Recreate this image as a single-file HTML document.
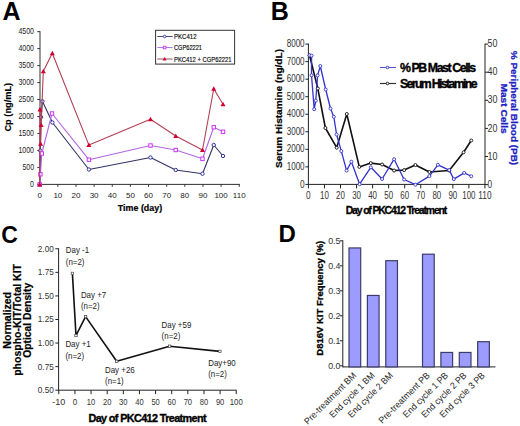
<!DOCTYPE html>
<html><head><meta charset="utf-8"><style>
html,body{margin:0;padding:0;background:#fff;}
svg{display:block;font-family:"Liberation Sans", sans-serif;}
</style></head><body>
<svg width="520" height="426" viewBox="0 0 520 426">
<rect width="520" height="426" fill="#fff"/>
<text x="2.50" y="20.00" font-size="25" font-weight="bold" text-anchor="start" fill="#000">A</text>
<line x1="40.00" y1="31.20" x2="40.00" y2="184.90" stroke="#333" stroke-width="1"/>
<line x1="37.30" y1="184.40" x2="40.00" y2="184.40" stroke="#333" stroke-width="1"/>
<text x="34.00" y="187.10" font-size="8.3" font-weight="normal" text-anchor="end" fill="#222" textLength="3.9" lengthAdjust="spacingAndGlyphs">0</text>
<line x1="37.30" y1="167.43" x2="40.00" y2="167.43" stroke="#333" stroke-width="1"/>
<text x="34.00" y="170.13" font-size="8.3" font-weight="normal" text-anchor="end" fill="#222" textLength="11.6" lengthAdjust="spacingAndGlyphs">500</text>
<line x1="37.30" y1="150.46" x2="40.00" y2="150.46" stroke="#333" stroke-width="1"/>
<text x="34.00" y="153.16" font-size="8.3" font-weight="normal" text-anchor="end" fill="#222" textLength="15.5" lengthAdjust="spacingAndGlyphs">1000</text>
<line x1="37.30" y1="133.49" x2="40.00" y2="133.49" stroke="#333" stroke-width="1"/>
<text x="34.00" y="136.19" font-size="8.3" font-weight="normal" text-anchor="end" fill="#222" textLength="15.5" lengthAdjust="spacingAndGlyphs">1500</text>
<line x1="37.30" y1="116.52" x2="40.00" y2="116.52" stroke="#333" stroke-width="1"/>
<text x="34.00" y="119.22" font-size="8.3" font-weight="normal" text-anchor="end" fill="#222" textLength="15.5" lengthAdjust="spacingAndGlyphs">2000</text>
<line x1="37.30" y1="99.55" x2="40.00" y2="99.55" stroke="#333" stroke-width="1"/>
<text x="34.00" y="102.25" font-size="8.3" font-weight="normal" text-anchor="end" fill="#222" textLength="15.5" lengthAdjust="spacingAndGlyphs">2500</text>
<line x1="37.30" y1="82.58" x2="40.00" y2="82.58" stroke="#333" stroke-width="1"/>
<text x="34.00" y="85.28" font-size="8.3" font-weight="normal" text-anchor="end" fill="#222" textLength="15.5" lengthAdjust="spacingAndGlyphs">3000</text>
<line x1="37.30" y1="65.61" x2="40.00" y2="65.61" stroke="#333" stroke-width="1"/>
<text x="34.00" y="68.31" font-size="8.3" font-weight="normal" text-anchor="end" fill="#222" textLength="15.5" lengthAdjust="spacingAndGlyphs">3500</text>
<line x1="37.30" y1="48.64" x2="40.00" y2="48.64" stroke="#333" stroke-width="1"/>
<text x="34.00" y="51.34" font-size="8.3" font-weight="normal" text-anchor="end" fill="#222" textLength="15.5" lengthAdjust="spacingAndGlyphs">4000</text>
<line x1="37.30" y1="31.67" x2="40.00" y2="31.67" stroke="#333" stroke-width="1"/>
<text x="34.00" y="34.37" font-size="8.3" font-weight="normal" text-anchor="end" fill="#222" textLength="15.5" lengthAdjust="spacingAndGlyphs">4500</text>
<line x1="39.50" y1="184.40" x2="239.80" y2="184.40" stroke="#333" stroke-width="1"/>
<line x1="39.70" y1="184.40" x2="39.70" y2="186.80" stroke="#333" stroke-width="1"/>
<text x="39.70" y="198.40" font-size="8" font-weight="normal" text-anchor="middle" fill="#222">0</text>
<line x1="57.84" y1="184.40" x2="57.84" y2="186.80" stroke="#333" stroke-width="1"/>
<text x="57.84" y="198.40" font-size="8" font-weight="normal" text-anchor="middle" fill="#222">10</text>
<line x1="75.98" y1="184.40" x2="75.98" y2="186.80" stroke="#333" stroke-width="1"/>
<text x="75.98" y="198.40" font-size="8" font-weight="normal" text-anchor="middle" fill="#222">20</text>
<line x1="94.12" y1="184.40" x2="94.12" y2="186.80" stroke="#333" stroke-width="1"/>
<text x="94.12" y="198.40" font-size="8" font-weight="normal" text-anchor="middle" fill="#222">30</text>
<line x1="112.26" y1="184.40" x2="112.26" y2="186.80" stroke="#333" stroke-width="1"/>
<text x="112.26" y="198.40" font-size="8" font-weight="normal" text-anchor="middle" fill="#222">40</text>
<line x1="130.40" y1="184.40" x2="130.40" y2="186.80" stroke="#333" stroke-width="1"/>
<text x="130.40" y="198.40" font-size="8" font-weight="normal" text-anchor="middle" fill="#222">50</text>
<line x1="148.54" y1="184.40" x2="148.54" y2="186.80" stroke="#333" stroke-width="1"/>
<text x="148.54" y="198.40" font-size="8" font-weight="normal" text-anchor="middle" fill="#222">60</text>
<line x1="166.68" y1="184.40" x2="166.68" y2="186.80" stroke="#333" stroke-width="1"/>
<text x="166.68" y="198.40" font-size="8" font-weight="normal" text-anchor="middle" fill="#222">70</text>
<line x1="184.82" y1="184.40" x2="184.82" y2="186.80" stroke="#333" stroke-width="1"/>
<text x="184.82" y="198.40" font-size="8" font-weight="normal" text-anchor="middle" fill="#222">80</text>
<line x1="202.96" y1="184.40" x2="202.96" y2="186.80" stroke="#333" stroke-width="1"/>
<text x="202.96" y="198.40" font-size="8" font-weight="normal" text-anchor="middle" fill="#222">90</text>
<line x1="221.10" y1="184.40" x2="221.10" y2="186.80" stroke="#333" stroke-width="1"/>
<text x="221.10" y="198.40" font-size="8" font-weight="normal" text-anchor="middle" fill="#222">100</text>
<line x1="239.24" y1="184.40" x2="239.24" y2="186.80" stroke="#333" stroke-width="1"/>
<text x="239.24" y="198.40" font-size="8" font-weight="normal" text-anchor="middle" fill="#222">110</text>
<text x="140.00" y="211.00" font-size="9.2" font-weight="bold" text-anchor="middle" fill="#000" textLength="44.3" lengthAdjust="spacingAndGlyphs" stroke="#000" stroke-width="0.2">Time (day)</text>
<text x="11.00" y="107.20" font-size="9.2" font-weight="bold" text-anchor="middle" fill="#000" textLength="48.7" lengthAdjust="spacingAndGlyphs" stroke="#000" stroke-width="0.15" transform="rotate(-90 11.00 107.20)">Cp (ng/mL)</text>
<rect x="155.6" y="30.3" width="79" height="33.8" fill="#fff" stroke="#333" stroke-width="1"/>
<line x1="157.30" y1="36.50" x2="172.60" y2="36.50" stroke="#333366" stroke-width="0.9"/>
<circle cx="164.60" cy="36.50" r="1.3" fill="#fff" stroke="#333399" stroke-width="0.9"/>
<text x="174.00" y="39.40" font-size="7.8" font-weight="normal" text-anchor="start" fill="#000" textLength="22.5" lengthAdjust="spacingAndGlyphs" stroke="#000" stroke-width="0.15">PKC412</text>
<line x1="157.30" y1="47.50" x2="172.60" y2="47.50" stroke="#a070d8" stroke-width="0.9"/>
<rect x="163.30" y="46.20" width="2.60" height="2.60" fill="#fff" stroke="#cc33ff" stroke-width="0.9"/>
<text x="174.00" y="50.40" font-size="7.8" font-weight="normal" text-anchor="start" fill="#000" textLength="28" lengthAdjust="spacingAndGlyphs" stroke="#000" stroke-width="0.15">CGP62221</text>
<line x1="157.30" y1="59.00" x2="172.60" y2="59.00" stroke="#884455" stroke-width="0.9"/>
<polygon points="164.60,57.00 166.60,60.60 162.60,60.60" fill="#d00030"/>
<text x="174.00" y="61.90" font-size="7.8" font-weight="normal" text-anchor="start" fill="#000" textLength="57.4" lengthAdjust="spacingAndGlyphs" stroke="#000" stroke-width="0.15">PKC412 + CGP62221</text>
<polyline points="39.70,184.40 40.30,150.60 41.00,117.20 42.40,101.30 52.40,122.50 88.90,169.50 150.50,157.50 175.75,170.00 202.50,173.75 213.75,145.00 223.00,156.00" fill="none" stroke="#333366" stroke-width="1.1" stroke-linejoin="round"/>
<circle cx="39.70" cy="184.40" r="1.7" fill="#fff" stroke="#333399" stroke-width="1"/>
<circle cx="40.30" cy="150.60" r="1.7" fill="#fff" stroke="#333399" stroke-width="1"/>
<circle cx="41.00" cy="117.20" r="1.7" fill="#fff" stroke="#333399" stroke-width="1"/>
<circle cx="42.40" cy="101.30" r="1.7" fill="#fff" stroke="#333399" stroke-width="1"/>
<circle cx="52.40" cy="122.50" r="1.7" fill="#fff" stroke="#333399" stroke-width="1"/>
<circle cx="88.90" cy="169.50" r="1.7" fill="#fff" stroke="#333399" stroke-width="1"/>
<circle cx="150.50" cy="157.50" r="1.7" fill="#fff" stroke="#333399" stroke-width="1"/>
<circle cx="175.75" cy="170.00" r="1.7" fill="#fff" stroke="#333399" stroke-width="1"/>
<circle cx="202.50" cy="173.75" r="1.7" fill="#fff" stroke="#333399" stroke-width="1"/>
<circle cx="213.75" cy="145.00" r="1.7" fill="#fff" stroke="#333399" stroke-width="1"/>
<circle cx="223.00" cy="156.00" r="1.7" fill="#fff" stroke="#333399" stroke-width="1"/>
<polyline points="39.70,184.40 40.40,174.30 41.80,153.50 52.00,113.50 88.90,159.70 150.50,145.50 175.75,150.00 202.50,158.75 213.75,127.25 223.00,131.75" fill="none" stroke="#b266e0" stroke-width="1.1" stroke-linejoin="round"/>
<rect x="38.00" y="182.70" width="3.40" height="3.40" fill="#fff" stroke="#cc33ff" stroke-width="1"/>
<rect x="38.70" y="172.60" width="3.40" height="3.40" fill="#fff" stroke="#cc33ff" stroke-width="1"/>
<rect x="40.10" y="151.80" width="3.40" height="3.40" fill="#fff" stroke="#cc33ff" stroke-width="1"/>
<rect x="50.30" y="111.80" width="3.40" height="3.40" fill="#fff" stroke="#cc33ff" stroke-width="1"/>
<rect x="87.20" y="158.00" width="3.40" height="3.40" fill="#fff" stroke="#cc33ff" stroke-width="1"/>
<rect x="148.80" y="143.80" width="3.40" height="3.40" fill="#fff" stroke="#cc33ff" stroke-width="1"/>
<rect x="174.05" y="148.30" width="3.40" height="3.40" fill="#fff" stroke="#cc33ff" stroke-width="1"/>
<rect x="200.80" y="157.05" width="3.40" height="3.40" fill="#fff" stroke="#cc33ff" stroke-width="1"/>
<rect x="212.05" y="125.55" width="3.40" height="3.40" fill="#fff" stroke="#cc33ff" stroke-width="1"/>
<rect x="221.30" y="130.05" width="3.40" height="3.40" fill="#fff" stroke="#cc33ff" stroke-width="1"/>
<polyline points="39.70,184.40 40.00,109.50 40.60,143.80 41.20,125.00 43.30,71.30 52.30,53.30 88.90,145.10 150.50,119.25 175.75,136.00 202.50,150.00 213.75,88.75 223.00,104.25" fill="none" stroke="#b04055" stroke-width="1.1" stroke-linejoin="round"/>
<polygon points="39.70,181.90 42.20,186.40 37.20,186.40" fill="#d00030"/>
<polygon points="40.00,107.00 42.50,111.50 37.50,111.50" fill="#d00030"/>
<polygon points="40.60,141.30 43.10,145.80 38.10,145.80" fill="#d00030"/>
<polygon points="41.20,122.50 43.70,127.00 38.70,127.00" fill="#d00030"/>
<polygon points="43.30,68.80 45.80,73.30 40.80,73.30" fill="#d00030"/>
<polygon points="52.30,50.80 54.80,55.30 49.80,55.30" fill="#d00030"/>
<polygon points="88.90,142.60 91.40,147.10 86.40,147.10" fill="#d00030"/>
<polygon points="150.50,116.75 153.00,121.25 148.00,121.25" fill="#d00030"/>
<polygon points="175.75,133.50 178.25,138.00 173.25,138.00" fill="#d00030"/>
<polygon points="202.50,147.50 205.00,152.00 200.00,152.00" fill="#d00030"/>
<polygon points="213.75,86.25 216.25,90.75 211.25,90.75" fill="#d00030"/>
<polygon points="223.00,101.75 225.50,106.25 220.50,106.25" fill="#d00030"/>
<text x="270.70" y="20.00" font-size="25" font-weight="bold" text-anchor="start" fill="#000">B</text>
<line x1="308.40" y1="43.60" x2="308.40" y2="184.90" stroke="#222" stroke-width="1"/>
<line x1="305.40" y1="184.40" x2="308.40" y2="184.40" stroke="#222" stroke-width="1"/>
<text x="304.60" y="187.50" font-size="10" font-weight="normal" text-anchor="end" fill="#333" textLength="4.6" lengthAdjust="spacingAndGlyphs">0</text>
<line x1="305.40" y1="166.86" x2="308.40" y2="166.86" stroke="#222" stroke-width="1"/>
<text x="304.60" y="169.96" font-size="10" font-weight="normal" text-anchor="end" fill="#333" textLength="17.9" lengthAdjust="spacingAndGlyphs">1000</text>
<line x1="305.40" y1="149.32" x2="308.40" y2="149.32" stroke="#222" stroke-width="1"/>
<text x="304.60" y="152.42" font-size="10" font-weight="normal" text-anchor="end" fill="#333" textLength="17.9" lengthAdjust="spacingAndGlyphs">2000</text>
<line x1="305.40" y1="131.78" x2="308.40" y2="131.78" stroke="#222" stroke-width="1"/>
<text x="304.60" y="134.88" font-size="10" font-weight="normal" text-anchor="end" fill="#333" textLength="17.9" lengthAdjust="spacingAndGlyphs">3000</text>
<line x1="305.40" y1="114.24" x2="308.40" y2="114.24" stroke="#222" stroke-width="1"/>
<text x="304.60" y="117.34" font-size="10" font-weight="normal" text-anchor="end" fill="#333" textLength="17.9" lengthAdjust="spacingAndGlyphs">4000</text>
<line x1="305.40" y1="96.70" x2="308.40" y2="96.70" stroke="#222" stroke-width="1"/>
<text x="304.60" y="99.80" font-size="10" font-weight="normal" text-anchor="end" fill="#333" textLength="17.9" lengthAdjust="spacingAndGlyphs">5000</text>
<line x1="305.40" y1="79.16" x2="308.40" y2="79.16" stroke="#222" stroke-width="1"/>
<text x="304.60" y="82.26" font-size="10" font-weight="normal" text-anchor="end" fill="#333" textLength="17.9" lengthAdjust="spacingAndGlyphs">6000</text>
<line x1="305.40" y1="61.62" x2="308.40" y2="61.62" stroke="#222" stroke-width="1"/>
<text x="304.60" y="64.72" font-size="10" font-weight="normal" text-anchor="end" fill="#333" textLength="17.9" lengthAdjust="spacingAndGlyphs">7000</text>
<line x1="305.40" y1="44.08" x2="308.40" y2="44.08" stroke="#222" stroke-width="1"/>
<text x="304.60" y="47.18" font-size="10" font-weight="normal" text-anchor="end" fill="#333" textLength="17.9" lengthAdjust="spacingAndGlyphs">8000</text>
<line x1="485.00" y1="43.70" x2="485.00" y2="184.90" stroke="#222" stroke-width="1"/>
<line x1="485.00" y1="184.60" x2="488.00" y2="184.60" stroke="#222" stroke-width="1"/>
<text x="487.60" y="187.70" font-size="10" font-weight="normal" text-anchor="start" fill="#333" textLength="4.6" lengthAdjust="spacingAndGlyphs">0</text>
<line x1="485.00" y1="156.50" x2="488.00" y2="156.50" stroke="#222" stroke-width="1"/>
<text x="487.60" y="159.60" font-size="10" font-weight="normal" text-anchor="start" fill="#333" textLength="9.9" lengthAdjust="spacingAndGlyphs">10</text>
<line x1="485.00" y1="128.40" x2="488.00" y2="128.40" stroke="#222" stroke-width="1"/>
<text x="487.60" y="131.50" font-size="10" font-weight="normal" text-anchor="start" fill="#333" textLength="9.9" lengthAdjust="spacingAndGlyphs">20</text>
<line x1="485.00" y1="100.30" x2="488.00" y2="100.30" stroke="#222" stroke-width="1"/>
<text x="487.60" y="103.40" font-size="10" font-weight="normal" text-anchor="start" fill="#333" textLength="9.9" lengthAdjust="spacingAndGlyphs">30</text>
<line x1="485.00" y1="72.20" x2="488.00" y2="72.20" stroke="#222" stroke-width="1"/>
<text x="487.60" y="75.30" font-size="10" font-weight="normal" text-anchor="start" fill="#333" textLength="9.9" lengthAdjust="spacingAndGlyphs">40</text>
<line x1="485.00" y1="44.10" x2="488.00" y2="44.10" stroke="#222" stroke-width="1"/>
<text x="487.60" y="47.20" font-size="10" font-weight="normal" text-anchor="start" fill="#333" textLength="9.9" lengthAdjust="spacingAndGlyphs">50</text>
<line x1="308.40" y1="184.40" x2="485.00" y2="184.40" stroke="#222" stroke-width="1"/>
<line x1="308.40" y1="184.40" x2="308.40" y2="188.40" stroke="#222" stroke-width="1"/>
<text x="308.40" y="199.10" font-size="10" font-weight="normal" text-anchor="middle" fill="#333" textLength="4.6" lengthAdjust="spacingAndGlyphs">0</text>
<line x1="324.45" y1="184.40" x2="324.45" y2="188.40" stroke="#222" stroke-width="1"/>
<text x="324.45" y="199.10" font-size="10" font-weight="normal" text-anchor="middle" fill="#333" textLength="8.8" lengthAdjust="spacingAndGlyphs">10</text>
<line x1="340.50" y1="184.40" x2="340.50" y2="188.40" stroke="#222" stroke-width="1"/>
<text x="340.50" y="199.10" font-size="10" font-weight="normal" text-anchor="middle" fill="#333" textLength="8.8" lengthAdjust="spacingAndGlyphs">20</text>
<line x1="356.55" y1="184.40" x2="356.55" y2="188.40" stroke="#222" stroke-width="1"/>
<text x="356.55" y="199.10" font-size="10" font-weight="normal" text-anchor="middle" fill="#333" textLength="8.8" lengthAdjust="spacingAndGlyphs">30</text>
<line x1="372.60" y1="184.40" x2="372.60" y2="188.40" stroke="#222" stroke-width="1"/>
<text x="372.60" y="199.10" font-size="10" font-weight="normal" text-anchor="middle" fill="#333" textLength="8.8" lengthAdjust="spacingAndGlyphs">40</text>
<line x1="388.65" y1="184.40" x2="388.65" y2="188.40" stroke="#222" stroke-width="1"/>
<text x="388.65" y="199.10" font-size="10" font-weight="normal" text-anchor="middle" fill="#333" textLength="8.8" lengthAdjust="spacingAndGlyphs">50</text>
<line x1="404.70" y1="184.40" x2="404.70" y2="188.40" stroke="#222" stroke-width="1"/>
<text x="404.70" y="199.10" font-size="10" font-weight="normal" text-anchor="middle" fill="#333" textLength="8.8" lengthAdjust="spacingAndGlyphs">60</text>
<line x1="420.75" y1="184.40" x2="420.75" y2="188.40" stroke="#222" stroke-width="1"/>
<text x="420.75" y="199.10" font-size="10" font-weight="normal" text-anchor="middle" fill="#333" textLength="8.8" lengthAdjust="spacingAndGlyphs">70</text>
<line x1="436.80" y1="184.40" x2="436.80" y2="188.40" stroke="#222" stroke-width="1"/>
<text x="436.80" y="199.10" font-size="10" font-weight="normal" text-anchor="middle" fill="#333" textLength="8.8" lengthAdjust="spacingAndGlyphs">80</text>
<line x1="452.85" y1="184.40" x2="452.85" y2="188.40" stroke="#222" stroke-width="1"/>
<text x="452.85" y="199.10" font-size="10" font-weight="normal" text-anchor="middle" fill="#333" textLength="8.8" lengthAdjust="spacingAndGlyphs">90</text>
<line x1="468.90" y1="184.40" x2="468.90" y2="188.40" stroke="#222" stroke-width="1"/>
<text x="468.90" y="199.10" font-size="10" font-weight="normal" text-anchor="middle" fill="#333" textLength="13.2" lengthAdjust="spacingAndGlyphs">100</text>
<line x1="484.95" y1="184.40" x2="484.95" y2="188.40" stroke="#222" stroke-width="1"/>
<text x="484.95" y="199.10" font-size="10" font-weight="normal" text-anchor="middle" fill="#333" textLength="13.2" lengthAdjust="spacingAndGlyphs">110</text>
<text x="396.50" y="214.30" font-size="10.4" font-weight="bold" text-anchor="middle" fill="#000" textLength="101.5" lengthAdjust="spacing" stroke="#000" stroke-width="0.3">Day of PKC412 Treatment</text>
<text x="282.20" y="108.50" font-size="9.6" font-weight="bold" text-anchor="middle" fill="#000" textLength="119" lengthAdjust="spacingAndGlyphs" stroke="#000" stroke-width="0.2" transform="rotate(-90 282.20 108.50)">Serum Histamine (ng/dL)</text>
<text x="511.30" y="108.00" font-size="9" font-weight="bold" text-anchor="middle" fill="#2020c0" textLength="114.3" lengthAdjust="spacingAndGlyphs" stroke="#2020c0" stroke-width="0.25" transform="rotate(90 511.30 108.00)">% Peripheral Blood (PB)</text>
<text x="501.20" y="108.60" font-size="9.3" font-weight="bold" text-anchor="middle" fill="#2020c0" textLength="50.1" lengthAdjust="spacingAndGlyphs" stroke="#2020c0" stroke-width="0.25" transform="rotate(90 501.20 108.60)">Mast Cells</text>
<line x1="380.00" y1="67.50" x2="396.00" y2="67.50" stroke="#5555cc" stroke-width="1.1"/>
<circle cx="387.50" cy="67.50" r="1.3" fill="#fff" stroke="#3333cc" stroke-width="0.9"/>
<line x1="380.00" y1="83.50" x2="396.00" y2="83.50" stroke="#333" stroke-width="1.2"/>
<circle cx="387.50" cy="83.50" r="1.3" fill="#fff" stroke="#111111" stroke-width="0.9"/>
<text x="400.00" y="71.80" font-size="12.3" font-weight="bold" text-anchor="start" fill="#000" textLength="76" lengthAdjust="spacing" stroke="#000" stroke-width="0.35">% PB Mast Cells</text>
<text x="400.00" y="87.80" font-size="12.3" font-weight="bold" text-anchor="start" fill="#000" textLength="77.5" lengthAdjust="spacing" stroke="#000" stroke-width="0.35">Serum Histamine</text>
<polyline points="309.60,55.50 317.80,88.50 325.40,128.00 336.70,147.70 346.80,114.00 359.30,166.90 370.80,163.10 382.10,164.50 394.10,170.50 404.10,170.10 415.40,165.00 429.40,172.00 449.20,170.50 463.60,152.30 471.25,140.50" fill="none" stroke="#111111" stroke-width="1.6" stroke-linejoin="round"/>
<polyline points="309.60,55.30 311.60,55.70 311.50,75.30 314.20,109.20 315.80,100.60 317.60,75.40 320.30,66.00 325.70,89.50 330.50,108.50 333.80,116.80 336.60,134.50 341.30,151.10 346.60,170.60 351.40,161.70 359.60,184.20 370.80,167.30 382.10,179.00 394.10,159.20 404.10,179.50 415.40,184.70 429.40,176.10 437.90,164.80 449.20,170.10 453.80,179.10 464.20,172.90 471.25,176.25" fill="none" stroke="#3333cc" stroke-width="1.3" stroke-linejoin="round"/>
<circle cx="309.60" cy="55.50" r="1.5" fill="#fff" stroke="#111111" stroke-width="0.9"/>
<circle cx="317.80" cy="88.50" r="1.5" fill="#fff" stroke="#111111" stroke-width="0.9"/>
<circle cx="325.40" cy="128.00" r="1.5" fill="#fff" stroke="#111111" stroke-width="0.9"/>
<circle cx="336.70" cy="147.70" r="1.5" fill="#fff" stroke="#111111" stroke-width="0.9"/>
<circle cx="346.80" cy="114.00" r="1.5" fill="#fff" stroke="#111111" stroke-width="0.9"/>
<circle cx="359.30" cy="166.90" r="1.5" fill="#fff" stroke="#111111" stroke-width="0.9"/>
<circle cx="370.80" cy="163.10" r="1.5" fill="#fff" stroke="#111111" stroke-width="0.9"/>
<circle cx="382.10" cy="164.50" r="1.5" fill="#fff" stroke="#111111" stroke-width="0.9"/>
<circle cx="394.10" cy="170.50" r="1.5" fill="#fff" stroke="#111111" stroke-width="0.9"/>
<circle cx="404.10" cy="170.10" r="1.5" fill="#fff" stroke="#111111" stroke-width="0.9"/>
<circle cx="415.40" cy="165.00" r="1.5" fill="#fff" stroke="#111111" stroke-width="0.9"/>
<circle cx="429.40" cy="172.00" r="1.5" fill="#fff" stroke="#111111" stroke-width="0.9"/>
<circle cx="449.20" cy="170.50" r="1.5" fill="#fff" stroke="#111111" stroke-width="0.9"/>
<circle cx="463.60" cy="152.30" r="1.5" fill="#fff" stroke="#111111" stroke-width="0.9"/>
<circle cx="471.25" cy="140.50" r="1.5" fill="#fff" stroke="#111111" stroke-width="0.9"/>
<circle cx="309.60" cy="55.30" r="1.5" fill="#fff" stroke="#3333cc" stroke-width="0.9"/>
<circle cx="311.60" cy="55.70" r="1.5" fill="#fff" stroke="#3333cc" stroke-width="0.9"/>
<circle cx="311.50" cy="75.30" r="1.5" fill="#fff" stroke="#3333cc" stroke-width="0.9"/>
<circle cx="314.20" cy="109.20" r="1.5" fill="#fff" stroke="#3333cc" stroke-width="0.9"/>
<circle cx="315.80" cy="100.60" r="1.5" fill="#fff" stroke="#3333cc" stroke-width="0.9"/>
<circle cx="317.60" cy="75.40" r="1.5" fill="#fff" stroke="#3333cc" stroke-width="0.9"/>
<circle cx="320.30" cy="66.00" r="1.5" fill="#fff" stroke="#3333cc" stroke-width="0.9"/>
<circle cx="325.70" cy="89.50" r="1.5" fill="#fff" stroke="#3333cc" stroke-width="0.9"/>
<circle cx="330.50" cy="108.50" r="1.5" fill="#fff" stroke="#3333cc" stroke-width="0.9"/>
<circle cx="333.80" cy="116.80" r="1.5" fill="#fff" stroke="#3333cc" stroke-width="0.9"/>
<circle cx="336.60" cy="134.50" r="1.5" fill="#fff" stroke="#3333cc" stroke-width="0.9"/>
<circle cx="341.30" cy="151.10" r="1.5" fill="#fff" stroke="#3333cc" stroke-width="0.9"/>
<circle cx="346.60" cy="170.60" r="1.5" fill="#fff" stroke="#3333cc" stroke-width="0.9"/>
<circle cx="351.40" cy="161.70" r="1.5" fill="#fff" stroke="#3333cc" stroke-width="0.9"/>
<circle cx="359.60" cy="184.20" r="1.5" fill="#fff" stroke="#3333cc" stroke-width="0.9"/>
<circle cx="370.80" cy="167.30" r="1.5" fill="#fff" stroke="#3333cc" stroke-width="0.9"/>
<circle cx="382.10" cy="179.00" r="1.5" fill="#fff" stroke="#3333cc" stroke-width="0.9"/>
<circle cx="394.10" cy="159.20" r="1.5" fill="#fff" stroke="#3333cc" stroke-width="0.9"/>
<circle cx="404.10" cy="179.50" r="1.5" fill="#fff" stroke="#3333cc" stroke-width="0.9"/>
<circle cx="415.40" cy="184.70" r="1.5" fill="#fff" stroke="#3333cc" stroke-width="0.9"/>
<circle cx="429.40" cy="176.10" r="1.5" fill="#fff" stroke="#3333cc" stroke-width="0.9"/>
<circle cx="437.90" cy="164.80" r="1.5" fill="#fff" stroke="#3333cc" stroke-width="0.9"/>
<circle cx="449.20" cy="170.10" r="1.5" fill="#fff" stroke="#3333cc" stroke-width="0.9"/>
<circle cx="453.80" cy="179.10" r="1.5" fill="#fff" stroke="#3333cc" stroke-width="0.9"/>
<circle cx="464.20" cy="172.90" r="1.5" fill="#fff" stroke="#3333cc" stroke-width="0.9"/>
<circle cx="471.25" cy="176.25" r="1.5" fill="#fff" stroke="#3333cc" stroke-width="0.9"/>
<text x="1.20" y="243.00" font-size="23" font-weight="bold" text-anchor="start" fill="#000">C</text>
<line x1="58.60" y1="248.30" x2="58.60" y2="390.70" stroke="#222" stroke-width="1"/>
<line x1="55.30" y1="390.20" x2="58.60" y2="390.20" stroke="#222" stroke-width="1"/>
<text x="53.80" y="393.10" font-size="9.8" font-weight="normal" text-anchor="end" fill="#333" textLength="16" lengthAdjust="spacingAndGlyphs">0.50</text>
<line x1="55.30" y1="366.63" x2="58.60" y2="366.63" stroke="#222" stroke-width="1"/>
<text x="53.80" y="369.53" font-size="9.8" font-weight="normal" text-anchor="end" fill="#333" textLength="16" lengthAdjust="spacingAndGlyphs">0.75</text>
<line x1="55.30" y1="343.06" x2="58.60" y2="343.06" stroke="#222" stroke-width="1"/>
<text x="53.80" y="345.96" font-size="9.8" font-weight="normal" text-anchor="end" fill="#333" textLength="16" lengthAdjust="spacingAndGlyphs">1.00</text>
<line x1="55.30" y1="319.49" x2="58.60" y2="319.49" stroke="#222" stroke-width="1"/>
<text x="53.80" y="322.39" font-size="9.8" font-weight="normal" text-anchor="end" fill="#333" textLength="16" lengthAdjust="spacingAndGlyphs">1.25</text>
<line x1="55.30" y1="295.92" x2="58.60" y2="295.92" stroke="#222" stroke-width="1"/>
<text x="53.80" y="298.82" font-size="9.8" font-weight="normal" text-anchor="end" fill="#333" textLength="16" lengthAdjust="spacingAndGlyphs">1.50</text>
<line x1="55.30" y1="272.35" x2="58.60" y2="272.35" stroke="#222" stroke-width="1"/>
<text x="53.80" y="275.25" font-size="9.8" font-weight="normal" text-anchor="end" fill="#333" textLength="16" lengthAdjust="spacingAndGlyphs">1.75</text>
<line x1="55.30" y1="248.78" x2="58.60" y2="248.78" stroke="#222" stroke-width="1"/>
<text x="53.80" y="251.68" font-size="9.8" font-weight="normal" text-anchor="end" fill="#333" textLength="16" lengthAdjust="spacingAndGlyphs">2.00</text>
<line x1="58.60" y1="390.20" x2="236.50" y2="390.20" stroke="#222" stroke-width="1"/>
<line x1="58.80" y1="390.20" x2="58.80" y2="394.20" stroke="#222" stroke-width="1"/>
<text x="58.80" y="404.50" font-size="9.8" font-weight="normal" text-anchor="middle" fill="#333" textLength="13.1" lengthAdjust="spacingAndGlyphs">-10</text>
<line x1="74.93" y1="390.20" x2="74.93" y2="394.20" stroke="#222" stroke-width="1"/>
<text x="74.93" y="404.50" font-size="9.8" font-weight="normal" text-anchor="middle" fill="#333" textLength="4.5" lengthAdjust="spacingAndGlyphs">0</text>
<line x1="91.06" y1="390.20" x2="91.06" y2="394.20" stroke="#222" stroke-width="1"/>
<text x="91.06" y="404.50" font-size="9.8" font-weight="normal" text-anchor="middle" fill="#333" textLength="8.4" lengthAdjust="spacingAndGlyphs">10</text>
<line x1="107.19" y1="390.20" x2="107.19" y2="394.20" stroke="#222" stroke-width="1"/>
<text x="107.19" y="404.50" font-size="9.8" font-weight="normal" text-anchor="middle" fill="#333" textLength="8.4" lengthAdjust="spacingAndGlyphs">20</text>
<line x1="123.32" y1="390.20" x2="123.32" y2="394.20" stroke="#222" stroke-width="1"/>
<text x="123.32" y="404.50" font-size="9.8" font-weight="normal" text-anchor="middle" fill="#333" textLength="8.4" lengthAdjust="spacingAndGlyphs">30</text>
<line x1="139.45" y1="390.20" x2="139.45" y2="394.20" stroke="#222" stroke-width="1"/>
<text x="139.45" y="404.50" font-size="9.8" font-weight="normal" text-anchor="middle" fill="#333" textLength="8.4" lengthAdjust="spacingAndGlyphs">40</text>
<line x1="155.58" y1="390.20" x2="155.58" y2="394.20" stroke="#222" stroke-width="1"/>
<text x="155.58" y="404.50" font-size="9.8" font-weight="normal" text-anchor="middle" fill="#333" textLength="8.4" lengthAdjust="spacingAndGlyphs">50</text>
<line x1="171.71" y1="390.20" x2="171.71" y2="394.20" stroke="#222" stroke-width="1"/>
<text x="171.71" y="404.50" font-size="9.8" font-weight="normal" text-anchor="middle" fill="#333" textLength="8.4" lengthAdjust="spacingAndGlyphs">60</text>
<line x1="187.84" y1="390.20" x2="187.84" y2="394.20" stroke="#222" stroke-width="1"/>
<text x="187.84" y="404.50" font-size="9.8" font-weight="normal" text-anchor="middle" fill="#333" textLength="8.4" lengthAdjust="spacingAndGlyphs">70</text>
<line x1="203.97" y1="390.20" x2="203.97" y2="394.20" stroke="#222" stroke-width="1"/>
<text x="203.97" y="404.50" font-size="9.8" font-weight="normal" text-anchor="middle" fill="#333" textLength="8.4" lengthAdjust="spacingAndGlyphs">80</text>
<line x1="220.10" y1="390.20" x2="220.10" y2="394.20" stroke="#222" stroke-width="1"/>
<text x="220.10" y="404.50" font-size="9.8" font-weight="normal" text-anchor="middle" fill="#333" textLength="8.4" lengthAdjust="spacingAndGlyphs">90</text>
<line x1="236.23" y1="390.20" x2="236.23" y2="394.20" stroke="#222" stroke-width="1"/>
<text x="236.23" y="404.50" font-size="9.8" font-weight="normal" text-anchor="middle" fill="#333" textLength="13" lengthAdjust="spacingAndGlyphs">100</text>
<text x="147.50" y="421.80" font-size="10.8" font-weight="bold" text-anchor="middle" fill="#000" textLength="118" lengthAdjust="spacing" stroke="#000" stroke-width="0.35">Day of PKC412 Treatment</text>
<text x="11.50" y="320.30" font-size="10.3" font-weight="bold" text-anchor="middle" fill="#000" textLength="56.7" lengthAdjust="spacingAndGlyphs" stroke="#000" stroke-width="0.2" transform="rotate(-90 11.50 320.30)">Normalized</text>
<text x="21.30" y="319.90" font-size="10.3" font-weight="bold" text-anchor="middle" fill="#000" textLength="111.8" lengthAdjust="spacingAndGlyphs" stroke="#000" stroke-width="0.2" transform="rotate(-90 21.30 319.90)">phospho-KIT/Total KIT</text>
<text x="30.80" y="320.30" font-size="10.3" font-weight="bold" text-anchor="middle" fill="#000" textLength="74.8" lengthAdjust="spacingAndGlyphs" stroke="#000" stroke-width="0.2" transform="rotate(-90 30.80 320.30)">Optical Density</text>
<polyline points="72.40,273.40 76.00,335.50 85.60,316.60 116.70,361.30 169.60,346.20 219.90,351.40" fill="none" stroke="#111" stroke-width="1.6" stroke-linejoin="round"/>
<rect x="71.20" y="272.20" width="2.40" height="2.40" fill="#fff" stroke="#444" stroke-width="0.7"/>
<rect x="74.80" y="334.30" width="2.40" height="2.40" fill="#fff" stroke="#444" stroke-width="0.7"/>
<rect x="84.40" y="315.40" width="2.40" height="2.40" fill="#fff" stroke="#444" stroke-width="0.7"/>
<rect x="115.50" y="360.10" width="2.40" height="2.40" fill="#fff" stroke="#444" stroke-width="0.7"/>
<rect x="168.40" y="345.00" width="2.40" height="2.40" fill="#fff" stroke="#444" stroke-width="0.7"/>
<rect x="218.70" y="350.20" width="2.40" height="2.40" fill="#fff" stroke="#444" stroke-width="0.7"/>
<text x="0" y="0" font-size="8.8" font-weight="normal" text-anchor="start" fill="#222" transform="translate(65.80 253.40) scale(0.9 1)">Day -1</text>
<text x="0" y="0" font-size="8.8" font-weight="normal" text-anchor="start" fill="#222" transform="translate(65.80 264.60) scale(0.9 1)">(n=2)</text>
<text x="0" y="0" font-size="8.8" font-weight="normal" text-anchor="start" fill="#222" transform="translate(80.90 297.90) scale(0.9 1)">Day +7</text>
<text x="0" y="0" font-size="8.8" font-weight="normal" text-anchor="start" fill="#222" transform="translate(80.90 309.10) scale(0.9 1)">(n=2)</text>
<text x="0" y="0" font-size="8.8" font-weight="normal" text-anchor="start" fill="#222" transform="translate(65.40 347.30) scale(0.9 1)">Day +1</text>
<text x="0" y="0" font-size="8.8" font-weight="normal" text-anchor="start" fill="#222" transform="translate(65.40 358.50) scale(0.9 1)">(n=2)</text>
<text x="0" y="0" font-size="8.8" font-weight="normal" text-anchor="start" fill="#222" transform="translate(105.00 372.70) scale(0.9 1)">Day +26</text>
<text x="0" y="0" font-size="8.8" font-weight="normal" text-anchor="start" fill="#222" transform="translate(105.00 383.90) scale(0.9 1)">(n=1)</text>
<text x="0" y="0" font-size="8.8" font-weight="normal" text-anchor="start" fill="#222" transform="translate(161.60 327.80) scale(0.9 1)">Day +59</text>
<text x="0" y="0" font-size="8.8" font-weight="normal" text-anchor="start" fill="#222" transform="translate(161.60 339.00) scale(0.9 1)">(n=2)</text>
<text x="0" y="0" font-size="8.8" font-weight="normal" text-anchor="start" fill="#222" transform="translate(208.20 365.50) scale(0.9 1)">Day+90</text>
<text x="0" y="0" font-size="8.8" font-weight="normal" text-anchor="start" fill="#222" transform="translate(208.20 376.70) scale(0.9 1)">(n=2)</text>
<text x="278.50" y="242.00" font-size="24" font-weight="bold" text-anchor="start" fill="#000">D</text>
<line x1="342.80" y1="240.30" x2="342.80" y2="367.40" stroke="#222" stroke-width="1"/>
<line x1="339.80" y1="365.80" x2="342.80" y2="365.80" stroke="#222" stroke-width="1"/>
<text x="340.50" y="369.10" font-size="9.4" font-weight="normal" text-anchor="end" fill="#333" textLength="12.3" lengthAdjust="spacingAndGlyphs">0.0</text>
<line x1="339.80" y1="340.80" x2="342.80" y2="340.80" stroke="#222" stroke-width="1"/>
<text x="340.50" y="344.10" font-size="9.4" font-weight="normal" text-anchor="end" fill="#333" textLength="12.3" lengthAdjust="spacingAndGlyphs">0.1</text>
<line x1="339.80" y1="315.80" x2="342.80" y2="315.80" stroke="#222" stroke-width="1"/>
<text x="340.50" y="319.10" font-size="9.4" font-weight="normal" text-anchor="end" fill="#333" textLength="12.3" lengthAdjust="spacingAndGlyphs">0.2</text>
<line x1="339.80" y1="290.80" x2="342.80" y2="290.80" stroke="#222" stroke-width="1"/>
<text x="340.50" y="294.10" font-size="9.4" font-weight="normal" text-anchor="end" fill="#333" textLength="12.3" lengthAdjust="spacingAndGlyphs">0.3</text>
<line x1="339.80" y1="265.80" x2="342.80" y2="265.80" stroke="#222" stroke-width="1"/>
<text x="340.50" y="269.10" font-size="9.4" font-weight="normal" text-anchor="end" fill="#333" textLength="12.3" lengthAdjust="spacingAndGlyphs">0.4</text>
<line x1="339.80" y1="240.80" x2="342.80" y2="240.80" stroke="#222" stroke-width="1"/>
<text x="340.50" y="244.10" font-size="9.4" font-weight="normal" text-anchor="end" fill="#333" textLength="12.3" lengthAdjust="spacingAndGlyphs">0.5</text>
<line x1="342.80" y1="366.90" x2="495.50" y2="366.90" stroke="#222" stroke-width="1"/>
<rect x="349.00" y="247.95" width="11.7" height="118.95" fill="#9c9cff" stroke="#3c3c6c" stroke-width="1.2"/>
<text x="356.85" y="376.00" font-size="9.1" font-weight="normal" text-anchor="end" fill="#222" textLength="69.3" lengthAdjust="spacingAndGlyphs" transform="rotate(-45 356.85 376.00)">Pre-treatment BM</text>
<rect x="367.38" y="295.45" width="11.7" height="71.45" fill="#9c9cff" stroke="#3c3c6c" stroke-width="1.2"/>
<text x="375.23" y="376.00" font-size="9.1" font-weight="normal" text-anchor="end" fill="#222" textLength="59.6" lengthAdjust="spacingAndGlyphs" transform="rotate(-45 375.23 376.00)">End cycle 1 BM</text>
<rect x="385.76" y="260.70" width="11.7" height="106.20" fill="#9c9cff" stroke="#3c3c6c" stroke-width="1.2"/>
<text x="393.61" y="376.00" font-size="9.1" font-weight="normal" text-anchor="end" fill="#222" textLength="59.6" lengthAdjust="spacingAndGlyphs" transform="rotate(-45 393.61 376.00)">End cycle 2 BM</text>
<rect x="422.52" y="254.20" width="11.7" height="112.70" fill="#9c9cff" stroke="#3c3c6c" stroke-width="1.2"/>
<text x="430.37" y="376.00" font-size="9.1" font-weight="normal" text-anchor="end" fill="#222" textLength="67.9" lengthAdjust="spacingAndGlyphs" transform="rotate(-45 430.37 376.00)">Pre-treatment PB</text>
<rect x="440.90" y="352.45" width="11.7" height="14.45" fill="#9c9cff" stroke="#3c3c6c" stroke-width="1.2"/>
<text x="448.75" y="376.00" font-size="9.1" font-weight="normal" text-anchor="end" fill="#222" textLength="59.6" lengthAdjust="spacingAndGlyphs" transform="rotate(-45 448.75 376.00)">End cycle 1 PB</text>
<rect x="459.28" y="352.45" width="11.7" height="14.45" fill="#9c9cff" stroke="#3c3c6c" stroke-width="1.2"/>
<text x="467.13" y="376.00" font-size="9.1" font-weight="normal" text-anchor="end" fill="#222" textLength="59.6" lengthAdjust="spacingAndGlyphs" transform="rotate(-45 467.13 376.00)">End cycle 2 PB</text>
<rect x="477.66" y="341.70" width="11.7" height="25.20" fill="#9c9cff" stroke="#3c3c6c" stroke-width="1.2"/>
<text x="485.51" y="376.00" font-size="9.1" font-weight="normal" text-anchor="end" fill="#222" textLength="59.6" lengthAdjust="spacingAndGlyphs" transform="rotate(-45 485.51 376.00)">End cycle 3 PB</text>
<text x="323.30" y="298.20" font-size="9.2" font-weight="bold" text-anchor="middle" fill="#000" textLength="115" lengthAdjust="spacingAndGlyphs" stroke="#000" stroke-width="0.3" transform="rotate(-90 323.30 298.20)">D816V KIT Frequency (%)</text>
</svg></body></html>
